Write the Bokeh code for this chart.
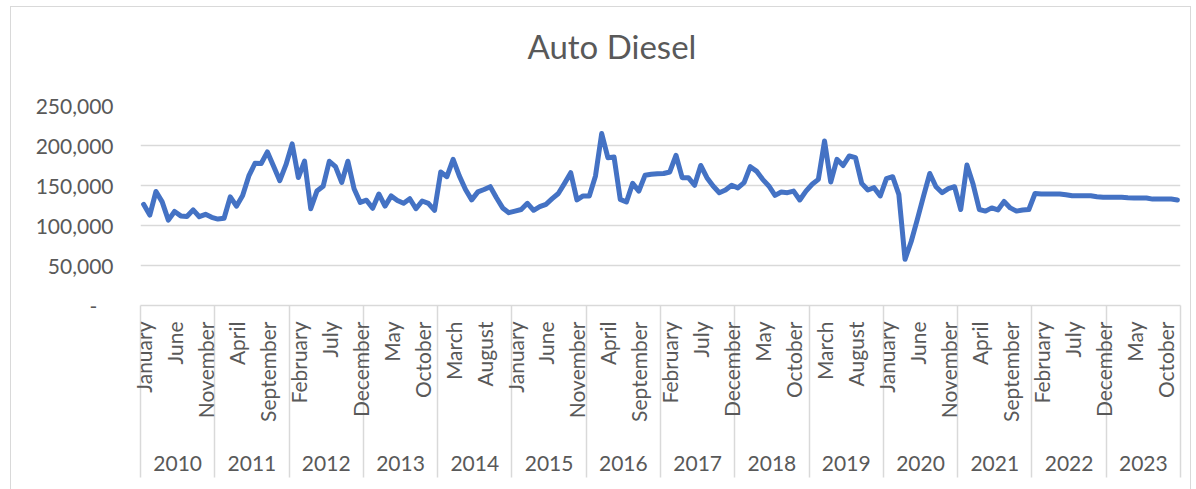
import numpy as np
from bokeh.plotting import figure
from bokeh.models import Range1d, FixedTicker, LinearAxis, InlineStyleSheet, Title
from bokeh.embed import file_html
from bokeh.resources import INLINE

month_names = ["January", "February", "March", "April", "May", "June", "July",
               "August", "September", "October", "November", "December"]
years = ["2010", "2011", "2012", "2013", "2014", "2015", "2016",
         "2017", "2018", "2019", "2020", "2021", "2022", "2023"]

values_2010 = [126500, 113000, 142500, 129500, 106700, 117500, 112000, 111200, 119500, 111000, 114000, 110200]
values_2011 = [108000, 109000, 135800, 124200, 137500, 162000, 177800, 177500, 192000, 174000, 156000, 176000]
values_2012 = [202000, 160000, 180500, 121000, 143000, 149000, 180300, 173500, 153800, 180300, 146000, 128800]
values_2013 = [131600, 121500, 139400, 124200, 137000, 131300, 127700, 133500, 121000, 130600, 127700, 119000]
values_2014 = [167000, 161000, 182700, 162000, 145000, 132000, 142000, 145000, 148500, 134700, 122000, 116000]
values_2015 = [118000, 120000, 127700, 119000, 123500, 126500, 133500, 140000, 152700, 166000, 132000, 137000]
values_2016 = [137000, 162000, 215000, 184800, 185600, 132700, 129400, 152700, 143000, 162700, 164000, 164800]
values_2017 = [165000, 166900, 187800, 159800, 159800, 150300, 175000, 159800, 149400, 141000, 144400, 150300]
values_2018 = [147000, 153500, 173500, 168000, 157700, 149400, 137700, 141900, 141000, 143000, 131900, 143000]
values_2019 = [151500, 157700, 205600, 154400, 182700, 175000, 186900, 184800, 152700, 144400, 147300, 136900]
values_2020 = [158500, 161000, 139000, 57700, 80000, 108000, 137000, 165000, 148500, 141000, 146000, 148500]
values_2021 = [120000, 175600, 151500, 120000, 118000, 122000, 119400, 130000, 122000, 118000, 119400, 120000]
values_2022 = [140000, 139400, 139400, 139400, 139400, 138500, 137100, 137100, 137100, 137100, 136000, 135400]
values_2023 = [135400, 135400, 135400, 134800, 134400, 134400, 134400, 133000, 133000, 133000, 133000, 132000]

values = (values_2010 + values_2011 + values_2012 + values_2013 + values_2014 + values_2015 +
          values_2016 + values_2017 + values_2018 + values_2019 + values_2020 + values_2021 +
          values_2022 + values_2023)

y_ticks = [0, 50000, 100000, 150000, 200000, 250000]
y_labels = ["-\u00a0\u00a0\u00a0", "50,000", "100,000", "150,000", "200,000", "250,000"]

n = len(values)
xs = [i + 0.5 for i in range(n)]

FONT = "Lato"
TXT = "#595959"
GRID = "#d9d9d9"

p = figure(width=1196, height=489, output_backend="svg", toolbar_location=None,
           title=None,
           x_range=Range1d(0, n), y_range=Range1d(0, 250000),
           x_axis_type=None,
           min_border_left=140, min_border_right=16, min_border_top=105, min_border_bottom=184)
p.outline_line_color = None
p.background_fill_color = "white"
p.border_fill_color = "white"
p.stylesheets = [InlineStyleSheet(css=""":host::after {
  content: ""; position: absolute; left: 10px; top: 6px; right: 5px; bottom: -10px;
  border: 1.5px solid #d9d9d9; pointer-events: none; }""")]

# spacer between the plot area and the chart title
spacer = Title(text=" ", text_font_size="1px", standoff=37)
p.add_layout(spacer, "above")

title = Title(text="Auto Diesel", align="left", offset=387, vertical_align="bottom",
              text_font=FONT, text_font_size="33px", text_font_style="normal",
              text_color=TXT, standoff=0)
p.add_layout(title, "above")

yax = p.yaxis[0]
yax.ticker = FixedTicker(ticks=y_ticks)
yax.major_label_overrides = dict(zip(y_ticks, y_labels))
yax.axis_line_color = None
yax.major_tick_line_color = None
yax.minor_tick_line_color = None
yax.major_tick_out = 0
yax.major_tick_in = 0
yax.major_label_standoff = 27
yax.major_label_text_font = FONT
yax.major_label_text_font_size = "21px"
yax.major_label_text_color = TXT

p.ygrid.ticker = FixedTicker(ticks=y_ticks)
p.ygrid.grid_line_color = GRID
p.ygrid.grid_line_width = 1.5

month_ticks = [i + 0.5 for i in range(0, n, 5)]
month_overrides = {t: month_names[int(t - 0.5) % 12] for t in month_ticks}
year_bounds = [12 * k for k in range(len(years) + 1)]

SEP = 172
ax_m = LinearAxis(ticker=FixedTicker(ticks=month_ticks, minor_ticks=year_bounds))
ax_m.major_label_overrides = month_overrides
ax_m.major_label_orientation = np.pi / 2
ax_m.axis_line_color = GRID
ax_m.axis_line_width = 1.5
ax_m.major_tick_out = 0
ax_m.major_tick_in = 0
ax_m.major_tick_line_color = None
ax_m.minor_tick_out = SEP
ax_m.minor_tick_in = 0
ax_m.minor_tick_line_color = GRID
ax_m.minor_tick_line_width = 1.5
ax_m.major_label_standoff = 16 - SEP
ax_m.major_label_text_font = FONT
ax_m.major_label_text_font_size = "21px"
ax_m.major_label_text_color = TXT

year_ticks = [12 * k + 6 for k in range(len(years))]
ax_y = LinearAxis(ticker=FixedTicker(ticks=year_ticks))
ax_y.major_label_overrides = dict(zip(year_ticks, years))
ax_y.axis_line_color = None
ax_y.major_tick_line_color = None
ax_y.minor_tick_line_color = None
ax_y.major_tick_out = 0
ax_y.major_tick_in = 0
ax_y.major_label_standoff = 31
ax_y.major_label_text_font = FONT
ax_y.major_label_text_font_size = "21px"
ax_y.major_label_text_color = TXT

p.add_layout(ax_m, "below")
p.add_layout(ax_y, "below")

p.line(xs, values, line_color="#4472C4", line_width=5, line_join="round", line_cap="round")

open("out.html", "w").write(file_html(p, INLINE))
